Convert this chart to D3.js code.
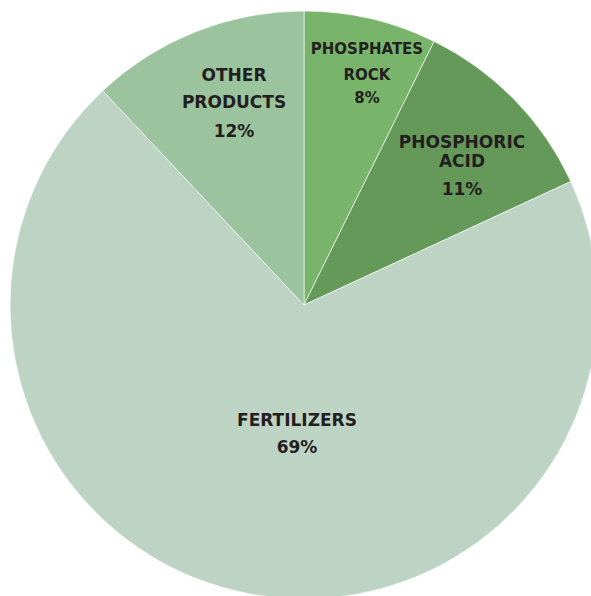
<!DOCTYPE html>
<html>
<head>
<meta charset="utf-8">
<script src="https://cdn.jsdelivr.net/npm/d3@7"></script>
<style>
  body { margin: 0; background: #fff; }
  svg { display: block; }
  .lbl { font-family: "DejaVu Sans", sans-serif; font-weight: bold; fill: #231f20; }
</style>
</head>
<body>
<svg></svg>
<script>
const categories = ["PHOSPHATES ROCK", "PHOSPHORIC ACID", "FERTILIZERS", "OTHER PRODUCTS"];
const values = [7.3, 10.8, 69.9, 12.0];
const pctLabels = ["8%", "11%", "69%", "12%"];
const colors = ["#78b56a", "#65995a", "#bdd4c5", "#9ac39e"];

// label line breaks and placement (relative to pie centre)
const labelLines = [
  ["PHOSPHATES", "ROCK", "8%"],
  ["PHOSPHORIC", "ACID", "11%"],
  ["FERTILIZERS", "69%"],
  ["OTHER", "PRODUCTS", "12%"]
];
const labelPos = [
  { x: 63, y: -251, gaps: [26, 23], size: 15 },
  { x: 158, y: -157, gaps: [19, 28], size: 17 },
  { x: -7, y: 121, gaps: [27], size: 17 },
  { x: -70, y: -224, gaps: [27, 29], size: 17 }
];

const w = 591, h = 596;
const cx = 304, cy = 305, r = 294;

const svg = d3.select("svg").attr("width", w).attr("height", h);
const g = svg.append("g").attr("transform", `translate(${cx},${cy})`);

const pie = d3.pie().sort(null).value((d) => d);
const arc = d3.arc().innerRadius(0).outerRadius(r);
const arcs = pie(values);

g.selectAll("path")
  .data(arcs)
  .join("path")
  .attr("d", arc)
  .attr("fill", (d, i) => colors[i])
  .attr("stroke", "#fff")
  .attr("stroke-width", 0.6);

labelLines.forEach((lines, i) => {
  const p = labelPos[i];
  const t = g.append("text")
    .attr("class", "lbl")
    .attr("text-anchor", "middle")
    .attr("font-size", p.size);
  let y = p.y;
  lines.forEach((line, j) => {
    if (j > 0) y += p.gaps[j - 1];
    t.append("tspan").attr("x", p.x).attr("y", y).text(line);
  });
});
</script>
</body>
</html>
